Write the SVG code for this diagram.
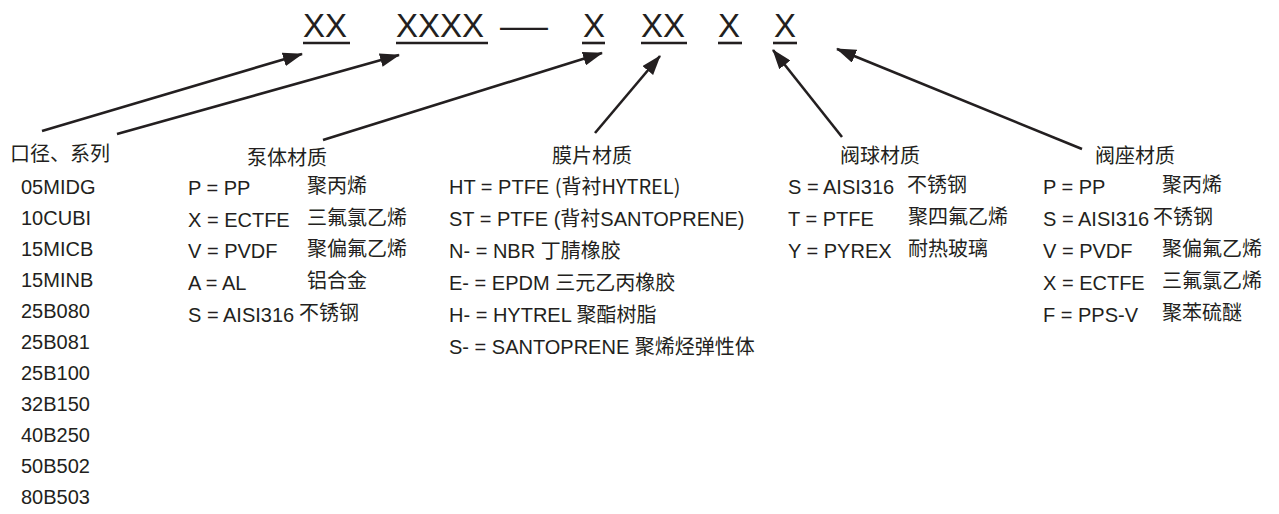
<svg xmlns="http://www.w3.org/2000/svg" width="1279" height="514" viewBox="0 0 1279 514">
<style>
text{font-family:"Liberation Sans","Noto Sans CJK SC",sans-serif;font-size:20px;fill:#231f20}
.big{font-size:33px}
.cjk{font-family:"Noto Sans CJK SC",sans-serif}
.ul{stroke:#231f20;stroke-width:2.6}
.arr{stroke:#231f20;stroke-width:2.6;fill:none;marker-end:url(#ah)}
</style>
<defs>
<marker id="ah" viewBox="0 0 20 14" refX="19" refY="7" markerWidth="20" markerHeight="14" markerUnits="userSpaceOnUse" orient="auto">
<path d="M0,0 L20,7 L0,14 z" fill="#231f20"/>
</marker>
</defs>
<rect width="1279" height="514" fill="#fff"/>
<g id="code">
<text class="big" x="303" y="37">XX</text>
<line class="ul" x1="303" y1="43" x2="350" y2="43"/>
<text class="big" x="396" y="37">XXXX</text>
<line class="ul" x1="396" y1="43" x2="488" y2="43"/>
<text class="big" x="500" y="37" textLength="48" lengthAdjust="spacingAndGlyphs">—</text>
<text class="big" x="583" y="37">X</text>
<line class="ul" x1="582" y1="43" x2="605" y2="43"/>
<text class="big" x="641" y="37">XX</text>
<line class="ul" x1="641" y1="43" x2="687" y2="43"/>
<text class="big" x="718" y="37">X</text>
<line class="ul" x1="718" y1="43" x2="742" y2="43"/>
<text class="big" x="774" y="37">X</text>
<line class="ul" x1="773" y1="43" x2="797" y2="43"/>
</g>
<g id="connectors">
<line class="arr" x1="42" y1="131" x2="302" y2="54"/>
<line class="arr" x1="117" y1="134" x2="399" y2="55"/>
<line class="arr" x1="323" y1="140" x2="602" y2="53"/>
<line class="arr" x1="595" y1="133" x2="660" y2="56"/>
<line class="arr" x1="842" y1="137" x2="773" y2="50"/>
<line class="arr" x1="1082" y1="149" x2="837" y2="49"/>
</g>
<g id="size-series">
<text x="10" y="161">口径、系列</text>
<text x="21" y="194">05MIDG</text>
<text x="21" y="225">10CUBI</text>
<text x="21" y="256">15MICB</text>
<text x="21" y="287">15MINB</text>
<text x="21" y="318">25B080</text>
<text x="21" y="349">25B081</text>
<text x="21" y="380">25B100</text>
<text x="21" y="411">32B150</text>
<text x="21" y="442">40B250</text>
<text x="21" y="473">50B502</text>
<text x="21" y="504">80B503</text>
</g>
<g id="body-material">
<text x="247" y="165">泵体材质</text>
<text x="188" y="195">P = PP</text><text x="307" y="193">聚丙烯</text>
<text x="188" y="227">X = ECTFE</text><text x="307" y="225">三氟氯乙烯</text>
<text x="188" y="258">V = PVDF</text><text x="307" y="256">聚偏氟乙烯</text>
<text x="188" y="290">A = AL</text><text x="307" y="288">铝合金</text>
<text x="188" y="322">S = AISI316</text><text x="299" y="320">不锈钢</text>
</g>
<g id="diaphragm-material">
<text x="552" y="163">膜片材质</text>
<text x="449" y="194">HT = PTFE <tspan class="cjk">(背衬HYTREL)</tspan></text>
<text x="449" y="226">ST = PTFE (背衬SANTOPRENE)</text>
<text x="449" y="258">N- = NBR 丁腈橡胶</text>
<text x="449" y="290">E- = EPDM 三元乙丙橡胶</text>
<text x="449" y="322">H- = HYTREL 聚酯树脂</text>
<text x="449" y="354">S- = SANTOPRENE 聚烯烃弹性体</text>
</g>
<g id="ball-material">
<text x="840" y="163">阀球材质</text>
<text x="788" y="194">S = AISI316</text><text x="907" y="192">不锈钢</text>
<text x="788" y="226">T = PTFE</text><text x="908" y="224">聚四氟乙烯</text>
<text x="788" y="258">Y = PYREX</text><text x="908" y="256">耐热玻璃</text>
</g>
<g id="seat-material">
<text x="1095" y="163">阀座材质</text>
<text x="1043" y="194">P = PP</text><text x="1162" y="192">聚丙烯</text>
<text x="1043" y="226">S = AISI316</text><text x="1153" y="224">不锈钢</text>
<text x="1043" y="258">V = PVDF</text><text x="1162" y="256">聚偏氟乙烯</text>
<text x="1043" y="290">X = ECTFE</text><text x="1162" y="288">三氟氯乙烯</text>
<text x="1043" y="322">F = PPS-V</text><text x="1162" y="320">聚苯硫醚</text>
</g>
</svg>
